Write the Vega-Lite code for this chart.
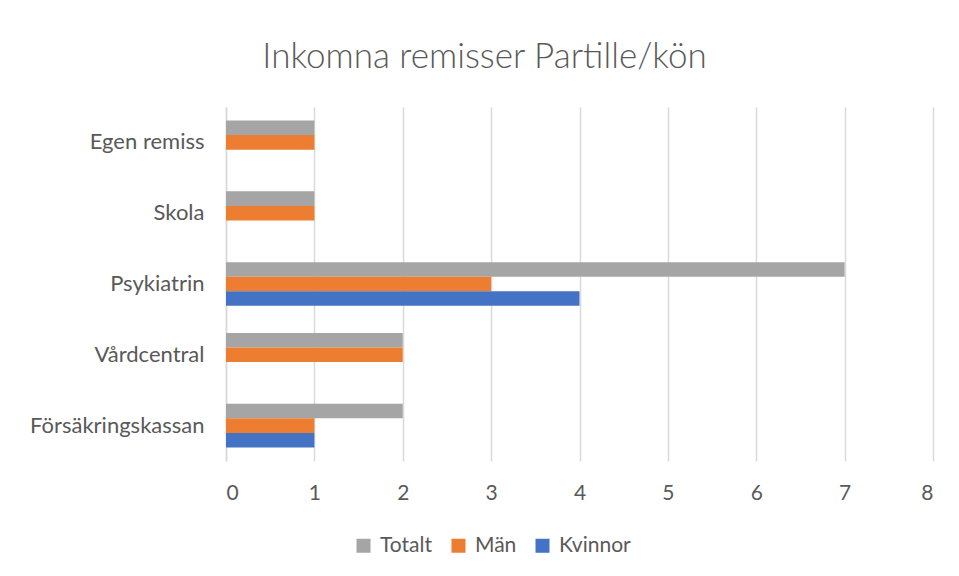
{
  "$schema": "https://vega.github.io/schema/vega-lite/v6.json",
  "width": 707,
  "height": 354,
  "autosize": {"type": "none"},
  "padding": {"left": 226, "top": 107, "right": 26, "bottom": 115},
  "background": "white",
  "title": {
    "text": "Inkomna remisser Partille/kön",
    "font": "Lato",
    "fontSize": 35,
    "fontWeight": 300,
    "color": "#595959",
    "anchor": "middle",
    "frame": "group",
    "baseline": "alphabetic",
    "offset": 4,
    "dx": -95
  },
  "data": {
    "values": [
      {"kategori": "Egen remiss", "serie": "Totalt", "antal": 1},
      {"kategori": "Egen remiss", "serie": "Män", "antal": 1},
      {"kategori": "Egen remiss", "serie": "Kvinnor", "antal": 0},
      {"kategori": "Skola", "serie": "Totalt", "antal": 1},
      {"kategori": "Skola", "serie": "Män", "antal": 1},
      {"kategori": "Skola", "serie": "Kvinnor", "antal": 0},
      {"kategori": "Psykiatrin", "serie": "Totalt", "antal": 7},
      {"kategori": "Psykiatrin", "serie": "Män", "antal": 3},
      {"kategori": "Psykiatrin", "serie": "Kvinnor", "antal": 4},
      {"kategori": "Vårdcentral", "serie": "Totalt", "antal": 2},
      {"kategori": "Vårdcentral", "serie": "Män", "antal": 2},
      {"kategori": "Vårdcentral", "serie": "Kvinnor", "antal": 0},
      {"kategori": "Försäkringskassan", "serie": "Totalt", "antal": 2},
      {"kategori": "Försäkringskassan", "serie": "Män", "antal": 1},
      {"kategori": "Försäkringskassan", "serie": "Kvinnor", "antal": 1}
    ]
  },
  "mark": {"type": "bar"},
  "encoding": {
    "y": {
      "field": "kategori",
      "type": "nominal",
      "sort": ["Egen remiss", "Skola", "Psykiatrin", "Vårdcentral", "Försäkringskassan"],
      "scale": {"paddingInner": 0.383, "paddingOuter": 0.1915},
      "axis": {
        "title": null,
        "ticks": false,
        "domain": true,
        "domainColor": "#D9D9D9",
        "domainWidth": 1.5,
        "labelFont": "Lato",
        "labelFontSize": 22,
        "labelColor": "#595959",
        "labelPadding": 22,
        "grid": false
      }
    },
    "yOffset": {
      "field": "serie",
      "type": "nominal",
      "sort": ["Totalt", "Män", "Kvinnor"],
      "scale": {"paddingInner": 0, "paddingOuter": 0}
    },
    "x": {
      "field": "antal",
      "type": "quantitative",
      "scale": {"domain": [0, 8], "nice": false},
      "axis": {
        "title": null,
        "values": [0, 1, 2, 3, 4, 5, 6, 7, 8],
        "ticks": false,
        "domain": false,
        "grid": true,
        "gridColor": "#D9D9D9",
        "gridWidth": 1.5,
        "labelFont": "Lato",
        "labelFontSize": 21,
        "labelColor": "#595959",
        "labelPadding": 21
      }
    },
    "color": {
      "field": "serie",
      "type": "nominal",
      "sort": ["Totalt", "Män", "Kvinnor"],
      "scale": {"domain": ["Totalt", "Män", "Kvinnor"], "range": ["#A5A5A5", "#ED7D31", "#4472C4"]},
      "legend": {
        "title": null,
        "orient": "none",
        "direction": "horizontal",
        "legendX": 127,
        "legendY": 428,
        "symbolType": "square",
        "symbolSize": 196,
        "symbolStrokeWidth": 0,
        "labelFont": "Lato",
        "labelFontSize": 21,
        "labelColor": "#595959",
        "labelOffset": 6,
        "columnPadding": 15
      }
    }
  },
  "config": {
    "view": {"stroke": null},
    "axis": {"gridDash": []}
  }
}
